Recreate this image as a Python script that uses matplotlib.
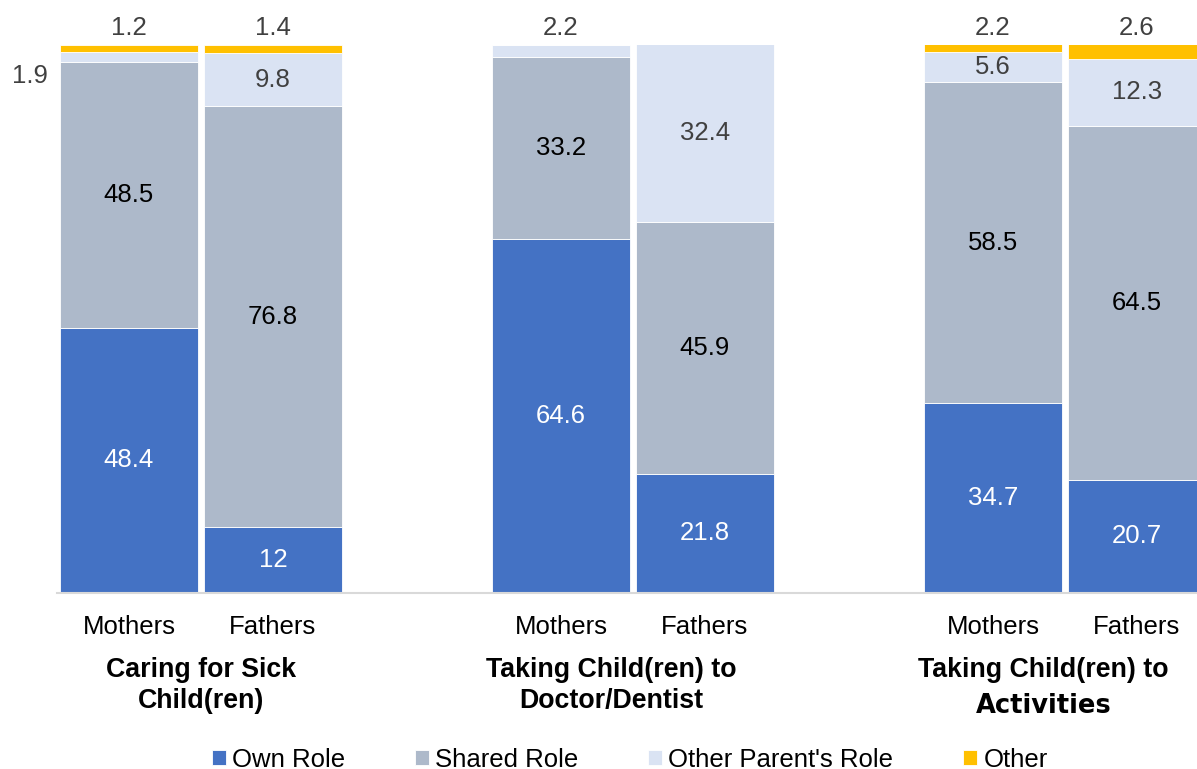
import matplotlib.pyplot as plt
import numpy as np

# data (percent)
groups = ["Caring for Sick\nChild(ren)", "Taking Child(ren) to\nDoctor/Dentist", "Taking Child(ren) to\nActivities"]
parents = ["Mothers", "Fathers"]
series_names = ["Own Role", "Shared Role", "Other Parent's Role", "Other"]
own_role = [48.4, 12, 64.6, 21.8, 34.7, 20.7]
shared_role = [48.5, 76.8, 33.2, 45.9, 58.5, 64.5]
other_parent_role = [1.9, 9.8, 2.2, 32.4, 5.6, 12.3]
other = [1.2, 1.4, 0, 0, 2.2, 2.6]

colors = ["#4472C4", "#ADB9CA", "#DAE3F3", "#FFC000"]
label_colors = ["white", "black", "#404040", "#404040"]

plt.rcParams['font.family'] = ['Liberation Sans', 'DejaVu Sans']
FS = 18.5


def fmt(v):
    return f"{v:g}"


def main():
    fig = plt.figure(figsize=(11.97, 7.69), dpi=100)
    ax = fig.add_axes([57 / 1197, 176 / 769, 1 - 57 / 1197, 548 / 769])

    x = np.array([g * 3 + p for g in range(len(groups)) for p in range(len(parents))], dtype=float)
    series = [own_role, shared_role, other_parent_role, other]
    bottom = np.zeros(len(x))
    for vals, col, name in zip(series, colors, series_names):
        ax.bar(x, vals, width=0.955, bottom=bottom, color=col, edgecolor='white',
               linewidth=0.6, label=name)
        bottom = bottom + np.array(vals)

    ax.set_xlim(-0.5, 7.417)
    ax.set_ylim(0, 100)

    # labels inside / around segments
    for i in range(len(x)):
        base = 0
        for s, vals in enumerate(series):
            v = vals[i]
            if v == 0:
                continue
            mid = base + v / 2
            if s == 3 or (s == 2 and v < 3 and other[i] == 0):
                ax.text(x[i], 103.1, fmt(v), ha='center', va='center', fontsize=FS,
                        color='#404040', clip_on=False)
            elif s == 2 and v < 3:
                ax.text(x[i] - 0.56, min(base + v, 100) - 4.5, fmt(v), ha='right', va='center',
                        fontsize=FS, color='#404040', clip_on=False)
            else:
                ax.text(x[i], min(mid, 100), fmt(v), ha='center', va='center', fontsize=FS,
                        color=label_colors[s])
            base += v

    ax.set_xticks(x, parents * len(groups), fontsize=FS, color='black')
    ax.tick_params(axis='x', length=0, pad=16)
    ax.set_yticks([])
    for side in ['top', 'right', 'left']:
        ax.spines[side].set_visible(False)
    ax.spines['bottom'].set_color('#D9D9D9')
    ax.spines['bottom'].set_linewidth(1.5)

    # group captions (two lines each); the reference centres them a bit left of the pairs
    trans = ax.get_xaxis_transform()
    caption_x = [0.5, 3.35, 6.35]
    for g, name in enumerate(groups):
        line1, line2 = name.split("\n")
        cx = caption_x[g]
        ax.text(cx, -0.1405, line1, transform=trans, ha='center', va='center',
                fontsize=19.3, fontweight='bold', color='black')
        if g == 2:
            ax.text(cx, -0.206, line2, transform=trans, ha='center', va='center',
                    fontsize=FS, fontweight='bold', color='black', family='DejaVu Sans')
        else:
            ax.text(cx, -0.197, line2, transform=trans, ha='center', va='center',
                    fontsize=19.3, fontweight='bold', color='black')

    fig.legend(loc='center', bbox_to_anchor=(0.526, 0.012), ncol=4, frameon=False,
               fontsize=FS, handlelength=0.55, handleheight=0.55, handletextpad=0.25,
               columnspacing=2.7)

    fig.savefig('out.png', dpi=100)


if __name__ == "__main__":
    main()
